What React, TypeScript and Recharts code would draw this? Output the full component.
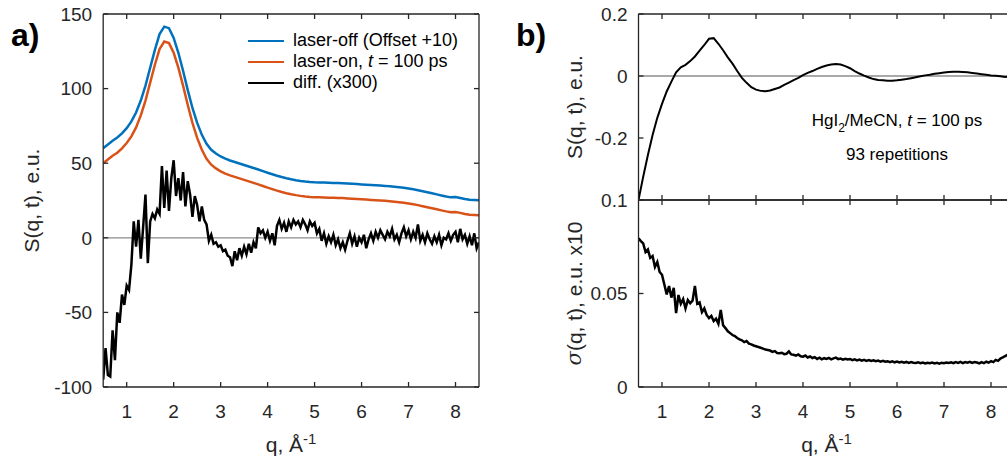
import React from "react";
import { LineChart, Line, XAxis, YAxis, ReferenceLine, Legend } from "recharts";

const FONT = '"Liberation Sans", Arial, Helvetica, sans-serif';
const AXIS = "#262626";
const ZERO = "#8c8c8c";

// q grid, step 0.1
const Q_COARSE = [
  0.5, 0.6, 0.7, 0.8, 0.9, 1, 1.1, 1.2, 1.3, 1.4,
  1.5, 1.6, 1.7, 1.8, 1.9, 2, 2.1, 2.2, 2.3, 2.4,
  2.5, 2.6, 2.7, 2.8, 2.9, 3, 3.1, 3.2, 3.3, 3.4,
  3.5, 3.6, 3.7, 3.8, 3.9, 4, 4.1, 4.2, 4.3, 4.4,
  4.5, 4.6, 4.7, 4.8, 4.9, 5, 5.1, 5.2, 5.3, 5.4,
  5.5, 5.6, 5.7, 5.8, 5.9, 6, 6.1, 6.2, 6.3, 6.4,
  6.5, 6.6, 6.7, 6.8, 6.9, 7, 7.1, 7.2, 7.3, 7.4,
  7.5, 7.6, 7.7, 7.8, 7.9, 8, 8.1, 8.2, 8.3, 8.4,
  8.5,
];

// q grid, step 0.05
const Q_FINE = [
  0.5, 0.55, 0.6, 0.65, 0.7, 0.75, 0.8, 0.85, 0.9, 0.95,
  1, 1.05, 1.1, 1.15, 1.2, 1.25, 1.3, 1.35, 1.4, 1.45,
  1.5, 1.55, 1.6, 1.65, 1.7, 1.75, 1.8, 1.85, 1.9, 1.95,
  2, 2.05, 2.1, 2.15, 2.2, 2.25, 2.3, 2.35, 2.4, 2.45,
  2.5, 2.55, 2.6, 2.65, 2.7, 2.75, 2.8, 2.85, 2.9, 2.95,
  3, 3.05, 3.1, 3.15, 3.2, 3.25, 3.3, 3.35, 3.4, 3.45,
  3.5, 3.55, 3.6, 3.65, 3.7, 3.75, 3.8, 3.85, 3.9, 3.95,
  4, 4.05, 4.1, 4.15, 4.2, 4.25, 4.3, 4.35, 4.4, 4.45,
  4.5, 4.55, 4.6, 4.65, 4.7, 4.75, 4.8, 4.85, 4.9, 4.95,
  5, 5.05, 5.1, 5.15, 5.2, 5.25, 5.3, 5.35, 5.4, 5.45,
  5.5, 5.55, 5.6, 5.65, 5.7, 5.75, 5.8, 5.85, 5.9, 5.95,
  6, 6.05, 6.1, 6.15, 6.2, 6.25, 6.3, 6.35, 6.4, 6.45,
  6.5, 6.55, 6.6, 6.65, 6.7, 6.75, 6.8, 6.85, 6.9, 6.95,
  7, 7.05, 7.1, 7.15, 7.2, 7.25, 7.3, 7.35, 7.4, 7.45,
  7.5, 7.55, 7.6, 7.65, 7.7, 7.75, 7.8, 7.85, 7.9, 7.95,
  8, 8.05, 8.1, 8.15, 8.2, 8.25, 8.3, 8.35, 8.4, 8.45,
  8.5,
];

// panel a
const LASER_OFF = [
  60, 62.5, 65, 67.2, 70, 73.5, 78, 84, 92, 102,
  114, 126, 136.5, 141.5, 140.5, 134, 124, 112, 99, 87,
  77, 69, 63, 59, 56.5, 54.5, 53, 51.8, 50.8, 49.8,
  48.8, 47.8, 46.8, 45.8, 44.7, 43.6, 42.6, 41.6, 40.7, 39.9,
  39.2, 38.6, 38.1, 37.7, 37.4, 37.2, 37.1, 37, 36.9, 36.8,
  36.7, 36.6, 36.4, 36.2, 36, 35.8, 35.6, 35.4, 35.2, 35,
  34.8, 34.5, 34.2, 33.9, 33.5, 33, 32.5, 31.9, 31.2, 30.5,
  29.8, 29.1, 28.4, 27.7, 27.1, 27.3, 26.7, 26, 25.5, 25.3,
  25.1,
];

const LASER_ON = [
  50, 52.5, 55, 57, 60, 63.5, 68, 74, 82, 92,
  104, 116, 126.5, 131.5, 130.5, 124, 114, 102, 89, 77,
  67, 59, 53, 49, 46.5, 44.5, 43, 41.8, 40.8, 39.8,
  38.8, 37.8, 36.8, 35.8, 34.7, 33.6, 32.6, 31.6, 30.7, 29.9,
  29.2, 28.6, 28.1, 27.7, 27.4, 27.2, 27.1, 27, 26.9, 26.8,
  26.7, 26.6, 26.4, 26.2, 26, 25.8, 25.6, 25.4, 25.2, 25,
  24.8, 24.5, 24.2, 23.9, 23.5, 23, 22.5, 21.9, 21.2, 20.5,
  19.8, 19.1, 18.4, 17.7, 17.1, 17.3, 16.7, 16, 15.5, 15.3,
  15.1,
];

const DIFF_X300 = [
  -95, -74, -92, -93, -62, -82, -50, -57, -38, -45,
  -32, -35, -18, 11, -6, 12, -14, 7, 29, -17,
  11, 16, 13, 19, 16, 48, 20, 45, 18, 40,
  52, 28, 40, 25, 44, 21, 38, 29, 14, 28,
  22, 11, 21, 12, 9, -2, 2, -4, -3, -6,
  -5, -9, -8, -12, -13, -19, -9, -15, -7, -12,
  -6, -11, -4, -10, -3, -7, 7, 3, 5, 0,
  4, -2, 3, -5, 8, 12, 6, 10, 4, 11,
  7, 12, 9, 11, 7, 12, 9, 5, 11, 8,
  10, 3, 6, -2, 3, -4, 1, -3, 2, -5,
  -1, -7, -3, -8, -2, 3, -4, 1, -6, 0,
  -3, 2, -7, -1, 3, -2, 4, 0, 5, 2,
  -1, 4, 1, 6, -1, 2, -3, 3, 7, 1,
  5, -1, 4, 0, 9, -2, 2, -3, 3, -1,
  -4, 1, -3, 2, -5, 0, -1, 3, -2, 2,
  4, -3, 6, -1, 2, -4, 1, -5, 3, -7,
  -3,
];

// panel b, top
const DIFF_AVG = [
  -0.4, -0.325, -0.255, -0.19, -0.135, -0.09, -0.05, -0.018, 0.012, 0.028,
  0.036, 0.048, 0.063, 0.082, 0.1, 0.12, 0.122, 0.104, 0.083, 0.06,
  0.04, 0.016, -0.006, -0.022, -0.036, -0.044, -0.048, -0.049, -0.047, -0.042,
  -0.037, -0.029, -0.021, -0.013, -0.006, 0.003, 0.01, 0.016, 0.023, 0.029,
  0.034, 0.037, 0.039, 0.037, 0.032, 0.025, 0.016, 0.008, 0.001, -0.005,
  -0.01, -0.013, -0.014, -0.015, -0.015, -0.014, -0.012, -0.01, -0.007, -0.004,
  -0.001, 0.002, 0.004, 0.007, 0.009, 0.011, 0.013, 0.014, 0.014, 0.013,
  0.012, 0.01, 0.008, 0.006, 0.004, 0.002, 0.001, -0.001, -0.003, -0.002,
  -0.004,
];

// panel b, bottom
const SIGMA = [
  0.0795, 0.078, 0.0768, 0.0722, 0.0735, 0.069, 0.07, 0.0642, 0.0668, 0.0615,
  0.06, 0.0548, 0.0495, 0.054, 0.0478, 0.053, 0.0395, 0.0492, 0.0445, 0.047,
  0.042, 0.0465, 0.0448, 0.0462, 0.054, 0.0445, 0.0452, 0.04, 0.042, 0.0385,
  0.0368, 0.038, 0.0352, 0.0365, 0.0338, 0.0412, 0.033, 0.0315, 0.0298, 0.0288,
  0.0278, 0.0272, 0.0262, 0.0255, 0.025, 0.024, 0.0246, 0.0232, 0.0228, 0.0222,
  0.0218, 0.0214, 0.021, 0.0205, 0.02, 0.0198, 0.0195, 0.0188, 0.0192, 0.0182,
  0.018, 0.0183, 0.0176, 0.0178, 0.019, 0.0174, 0.0172, 0.0168, 0.0174, 0.0164,
  0.0162, 0.0168, 0.0158, 0.0163, 0.0155, 0.016, 0.015, 0.0157, 0.0148, 0.0154,
  0.015, 0.0156, 0.0148, 0.0153, 0.0157, 0.0149, 0.0152, 0.0146, 0.0151, 0.0147,
  0.015, 0.0144, 0.0148, 0.0142, 0.0147, 0.0141, 0.0145, 0.014, 0.0144, 0.0139,
  0.0143, 0.0138, 0.0141, 0.0136, 0.014, 0.0135, 0.0138, 0.0133, 0.0137, 0.0132,
  0.0136, 0.0131, 0.0135, 0.013, 0.0134, 0.0129, 0.0133, 0.013, 0.0128, 0.0132,
  0.0127, 0.0131, 0.0126, 0.013, 0.0127, 0.0131, 0.0126, 0.0129, 0.0125, 0.013,
  0.0127, 0.0131, 0.0128, 0.0132, 0.0127, 0.0133, 0.0129, 0.0134, 0.0128, 0.0133,
  0.013, 0.0135, 0.0129, 0.0134, 0.0131, 0.0126, 0.0133, 0.0128, 0.0135, 0.013,
  0.0138, 0.0133, 0.0145, 0.014, 0.0152, 0.0158, 0.0165, 0.0172, 0.0168, 0.0178,
  0.0182,
];

const Q_TICKS = [1, 2, 3, 4, 5, 6, 7, 8];
const A_Y_TICKS = [-100, -50, 0, 50, 100, 150];
const BT_Y_TICKS = [-0.2, 0, 0.2];
const BB_Y_TICKS = [0, 0.05, 0.1];
const LEGEND_ORDER = ["laser-off (Offset +10)", "laser-on, t = 100 ps", "diff. (x300)"];

const toRows = (qs: number[], vs: number[]) => qs.map((q, i) => ({ q, v: vs[i] }));

const offRows = toRows(Q_COARSE, LASER_OFF);
const onRows = toRows(Q_COARSE, LASER_ON);
const diffRows = toRows(Q_FINE, DIFF_X300);
const avgRows = toRows(Q_COARSE, DIFF_AVG);
const sigmaRows = toRows(Q_FINE, SIGMA);

const tickText = { fill: AXIS, fontSize: 19, fontFamily: FONT };
const axisStroke = { stroke: AXIS, strokeWidth: 1.3 };
const blank = () => "";

const qAxis = {
  type: "number" as const,
  dataKey: "q",
  domain: [0.5, 8.5],
  ticks: Q_TICKS,
  allowDataOverflow: true,
  interval: 0 as const,
  tickSize: -5,
  stroke: AXIS,
  axisLine: axisStroke,
  tickLine: axisStroke,
};

const yBase = {
  type: "number" as const,
  allowDataOverflow: true,
  interval: 0 as const,
  tickSize: -5,
  stroke: AXIS,
  axisLine: axisStroke,
  tickLine: axisStroke,
};

function YTitle({ viewBox, cx, text }: any) {
  const vb = viewBox || { y: 0, height: 0 };
  const cy = vb.y + vb.height / 2;
  const parts = text.split(/(σ)/);
  return (
    <text
      x={cx}
      y={cy}
      transform={`rotate(-90, ${cx}, ${cy})`}
      textAnchor="middle"
      dominantBaseline="central"
      fontSize={21}
      fill={AXIS}
      fontFamily={FONT}
    >
      {parts.map((p: string, i: number) =>
        p === "σ" ? (
          <tspan key={i} fontStyle="italic" fontFamily="'DejaVu Serif', serif">
            {p}
          </tspan>
        ) : (
          <tspan key={i}>{p}</tspan>
        )
      )}
    </text>
  );
}

function XTitle({ viewBox }: any) {
  const vb = viewBox || { x: 0, y: 0, width: 0 };
  return (
    <text
      x={vb.x + vb.width / 2}
      y={vb.y + 65}
      textAnchor="middle"
      fontSize={21}
      fill={AXIS}
      fontFamily={FONT}
    >
      q, Å<tspan dy={-8} fontSize={15}>-1</tspan>
    </text>
  );
}

const withItalicT = (s: string) =>
  s.split(/(\bt\b)/).map((p, i) =>
    p === "t" ? (
      <i key={i}>t</i>
    ) : (
      <span key={i}>{p}</span>
    )
  );

const renderLegend = ({ payload }: any) => {
  const items = [...(payload || [])].sort(
    (a: any, b: any) => LEGEND_ORDER.indexOf(a.value) - LEGEND_ORDER.indexOf(b.value)
  );
  return (
    <div style={{ fontFamily: FONT, fontSize: 18, color: "#000", lineHeight: "21px" }}>
      {items.map((p: any) => (
        <div key={p.value} style={{ display: "flex", alignItems: "center", whiteSpace: "nowrap" }}>
          <span
            style={{
              display: "inline-block",
              width: 36,
              height: 0,
              borderTop: `2.5px solid ${p.color}`,
              marginRight: 9,
            }}
          />
          <span>{withItalicT(p.value)}</span>
        </div>
      ))}
    </div>
  );
};

function PanelA() {
  return (
    <LineChart width={500} height={465} margin={{ top: 13, right: 20, bottom: 0, left: 0 }}>
      <XAxis {...qAxis} xAxisId="b" orientation="bottom" height={78} tickMargin={23} tick={tickText} label={<XTitle />} />
      <XAxis {...qAxis} xAxisId="t" orientation="top" height={1} tickFormatter={blank} />
      <YAxis
        {...yBase}
        yAxisId="l"
        domain={[-100, 150]}
        ticks={A_Y_TICKS}
        width={103.2}
        tickMargin={16}
        tick={tickText}
        label={<YTitle cx={31} text="S(q, t), e.u." />}
      />
      <YAxis
        {...yBase}
        yAxisId="r"
        orientation="right"
        domain={[-100, 150]}
        ticks={A_Y_TICKS}
        width={1}
        tickFormatter={blank}
      />
      <ReferenceLine xAxisId="b" yAxisId="l" y={0} stroke={ZERO} strokeWidth={1.3} />
      <Line xAxisId="b" yAxisId="l" data={offRows} dataKey="v" name="laser-off (Offset +10)" type="linear"
        stroke="#0072BD" strokeWidth={2.5} dot={false} isAnimationActive={false} legendType="line" />
      <Line xAxisId="b" yAxisId="l" data={onRows} dataKey="v" name="laser-on, t = 100 ps" type="linear"
        stroke="#D95319" strokeWidth={2.5} dot={false} isAnimationActive={false} legendType="line" />
      <Line xAxisId="b" yAxisId="l" data={diffRows} dataKey="v" name="diff. (x300)" type="linear"
        stroke="#000000" strokeWidth={2.5} dot={false} isAnimationActive={false} legendType="line" />
      <Legend
        content={renderLegend}
        layout="vertical"
        verticalAlign="middle"
        align="center"
        wrapperStyle={{ left: 248, top: 30, width: "auto" }}
      />
    </LineChart>
  );
}

function PanelBTop() {
  return (
    <LineChart width={520} height={202} margin={{ top: 13, right: 5.5, bottom: 1, left: 0 }}>
      <XAxis {...qAxis} xAxisId="b" orientation="bottom" height={1} tickFormatter={blank} />
      <XAxis {...qAxis} xAxisId="t" orientation="top" height={1} tickFormatter={blank} />
      <YAxis
        {...yBase}
        yAxisId="l"
        domain={[-0.4, 0.2]}
        ticks={BT_Y_TICKS}
        width={138.5}
        tickMargin={16}
        tick={tickText}
        label={<YTitle cx={74} text="S(q, t), e.u." />}
      />
      <ReferenceLine xAxisId="b" yAxisId="l" y={0} stroke={ZERO} strokeWidth={1.3} />
      <Line xAxisId="b" yAxisId="l" data={avgRows} dataKey="v" type="linear" stroke="#000000"
        strokeWidth={2} dot={false} isAnimationActive={false} />
    </LineChart>
  );
}

function PanelBBottom() {
  return (
    <LineChart width={520} height={285} margin={{ top: 19, right: 5.5, bottom: 0, left: 0 }}>
      <XAxis {...qAxis} xAxisId="b" orientation="bottom" height={78} tickMargin={23} tick={tickText} label={<XTitle />} />
      <XAxis {...qAxis} xAxisId="t" orientation="top" height={1} tickFormatter={blank} />
      <YAxis
        {...yBase}
        yAxisId="l"
        domain={[0, 0.1]}
        ticks={BB_Y_TICKS}
        width={138.5}
        tickMargin={16}
        tick={tickText}
        label={<YTitle cx={74} text="σ(q, t), e.u. x10" />}
      />
      <Line xAxisId="b" yAxisId="l" data={sigmaRows} dataKey="v" type="linear" stroke="#000000"
        strokeWidth={2.5} dot={false} isAnimationActive={false} />
    </LineChart>
  );
}

export default function App() {
  return (
    <div
      style={{
        position: "absolute",
        left: 0,
        top: 0,
        width: 1007,
        height: 465,
        overflow: "hidden",
        background: "#fff",
        fontFamily: FONT,
      }}
    >
      <div style={{ position: "absolute", left: 0, top: 0 }}>
        <PanelA />
      </div>
      <div style={{ position: "absolute", left: 500, top: 0 }}>
        <PanelBTop />
      </div>
      <div style={{ position: "absolute", left: 500, top: 180 }}>
        <PanelBBottom />
      </div>
      <svg
        width={1007}
        height={465}
        style={{ position: "absolute", left: 0, top: 0, pointerEvents: "none" }}
      >
        <text x={11} y={46} fontSize={32} fontWeight="bold" fontFamily={FONT} fill="#000">
          a)
        </text>
        <text x={516} y={46} fontSize={32} fontWeight="bold" fontFamily={FONT} fill="#000">
          b)
        </text>
        <text x={897} y={126} textAnchor="middle" fontSize={17} fontFamily={FONT} fill="#000">
          HgI<tspan dy={6} fontSize={12}>2</tspan>
          <tspan dy={-6}>/MeCN, </tspan>
          <tspan fontStyle="italic">t</tspan>
          <tspan> = 100 ps</tspan>
        </text>
        <text x={897} y={160} textAnchor="middle" fontSize={17} fontFamily={FONT} fill="#000">
          93 repetitions
        </text>
      </svg>
    </div>
  );
}
